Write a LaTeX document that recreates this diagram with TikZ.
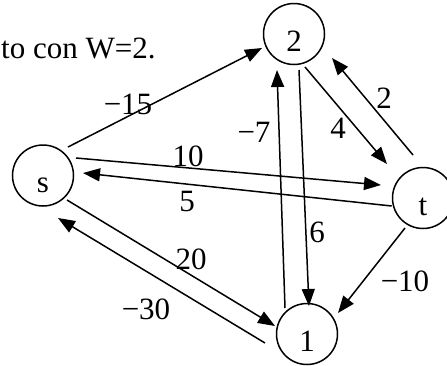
\documentclass[tikz,border=0pt]{standalone}
\usepackage{fontspec}
\setmainfont{Liberation Serif}
\usetikzlibrary{arrows.meta}
\begin{document}
\begin{tikzpicture}[x=1pt,y=-1pt,
  vert/.style={circle,draw,line width=1.5pt,minimum size=61pt,inner sep=0pt},
  vlab/.style={anchor=base,inner sep=0pt,font=\fontsize{31}{37}\selectfont},
  wlab/.style={inner sep=0pt,font=\fontsize{31}{37}\selectfont},
  edge/.style={line width=1.5pt,-{Triangle[length=17pt,width=13pt]}}]
\useasboundingbox (0,0) rectangle (447,365);
% vertices
\node[vert] (s) at (43,175.5) {};
\node[vert] (v2) at (294,34) {};
\node[vert] (t) at (423,198) {};
\node[vert] (v1) at (307,334) {};
\node[vlab] (ls) at (43,192.5) {s};
\node[vlab] (l2) at (294,51.5) {2};
\node[vlab] (lt) at (423,215.5) {t};
\node[vlab] (l1) at (307,351.5) {1};
% caption
\node[anchor=base west,inner sep=0pt,font=\fontsize{31}{37}\selectfont] (cap) at (1,58) {to con W=2.};
% endpoints
\coordinate (a1) at (68,147);   \coordinate (b1) at (262,48);
\coordinate (a2) at (76,158);   \coordinate (b2) at (381,185);
\coordinate (a3) at (391.7,206);\coordinate (b3) at (83,173);
\coordinate (a4) at (67,200);   \coordinate (b4) at (275,326);
\coordinate (a5) at (265,343);  \coordinate (b5) at (58,218);
\coordinate (a6) at (299,70);   \coordinate (b6) at (309,306);
\coordinate (a7) at (285,308);  \coordinate (b7) at (277,70);
\coordinate (a8) at (305,67);   \coordinate (b8) at (387,164);
\coordinate (a9) at (413,155);  \coordinate (b9) at (332,58);
\coordinate (a10) at (405,228); \coordinate (b10) at (338,313);
% edges
\draw[edge] (a1) -- (b1);
\draw[edge] (a2) -- (b2);
\draw[edge] (a3) -- (b3);
\draw[edge] (a4) -- (b4);
\draw[edge] (a5) -- (b5);
\draw[edge] (a6) -- (b6);
\draw[edge] (a7) -- (b7);
\draw[edge] (a8) -- (b8);
\draw[edge] (a9) -- (b9);
\draw[edge] (a10) -- (b10);
% weights
\node[wlab] (w1) at (128,104) {−15};
\node[wlab] (w2) at (188,156) {10};
\node[wlab] (w3) at (187,201) {5};
\node[wlab] (w4) at (191,259) {20};
\node[wlab] (w5) at (146,309) {−30};
\node[wlab] (w6) at (317,232) {6};
\node[wlab] (w7) at (254,132) {−7};
\node[wlab] (w8) at (338,128) {4};
\node[wlab] (w9) at (384,98) {2};
\node[wlab] (w10) at (405,281) {−10};
\end{tikzpicture}
\end{document}
